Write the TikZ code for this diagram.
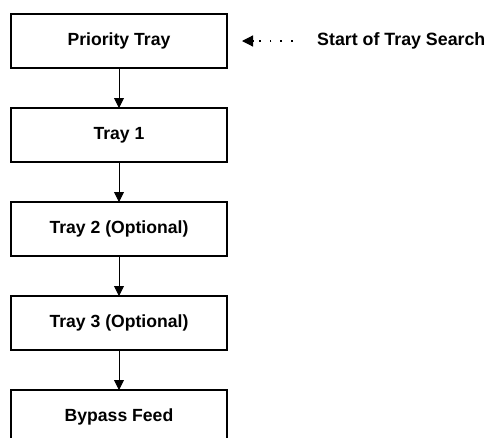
\documentclass[tikz,border=0pt]{standalone}
\usepackage{fontspec}
\setmainfont{Liberation Sans}
\usetikzlibrary{positioning, arrows.meta}

\tikzset{
    traybox/.style={draw, line width=1.6pt, minimum width=216pt, minimum height=54pt,
        outer sep=0pt, font=\fontsize{17.6}{20}\selectfont\bfseries},
    flow/.style={line width=0.9pt, -{Triangle[length=10pt, width=10pt]}},
    searchline/.style={line width=1.8pt, dash pattern=on 1.8pt off 9pt},
    searchtip/.style={line width=1.2pt, -{Triangle[length=11pt, width=11pt]}}
}

\begin{document}
\begin{tikzpicture}[x=1pt, y=1pt]
    % Page area
    \clip (0,0) rectangle (487,-437);

    % Search order
    \node[traybox] (prio) at (119,-41) {Priority Tray};
    \node[traybox, below=40pt of prio] (tray1) {Tray 1};
    \node[traybox, below=40pt of tray1] (tray2) {Tray 2 (Optional)};
    \node[traybox, below=40pt of tray2] (tray3) {Tray 3 (Optional)};
    \node[traybox, below=40pt of tray3] (bypass) {Bypass Feed};

    \draw[flow] (prio) -- (tray1);
    \draw[flow] (tray1) -- (tray2);
    \draw[flow] (tray2) -- (tray3);
    \draw[flow] (tray3) -- (bypass);

    % Start marker
    \node[right, inner sep=0pt, font=\fontsize{17.8}{20}\selectfont\bfseries] (search) at (317,-41) {Start of Tray Search};
    \coordinate (start) at ([xshift=15pt]prio.east);
    \coordinate (tipbase) at ([xshift=11pt]start);
    \draw[searchline, shorten <=24pt, shorten >=4pt] (search.west) -- (tipbase);
    \draw[searchtip] (tipbase) -- (start);
\end{tikzpicture}
\end{document}
